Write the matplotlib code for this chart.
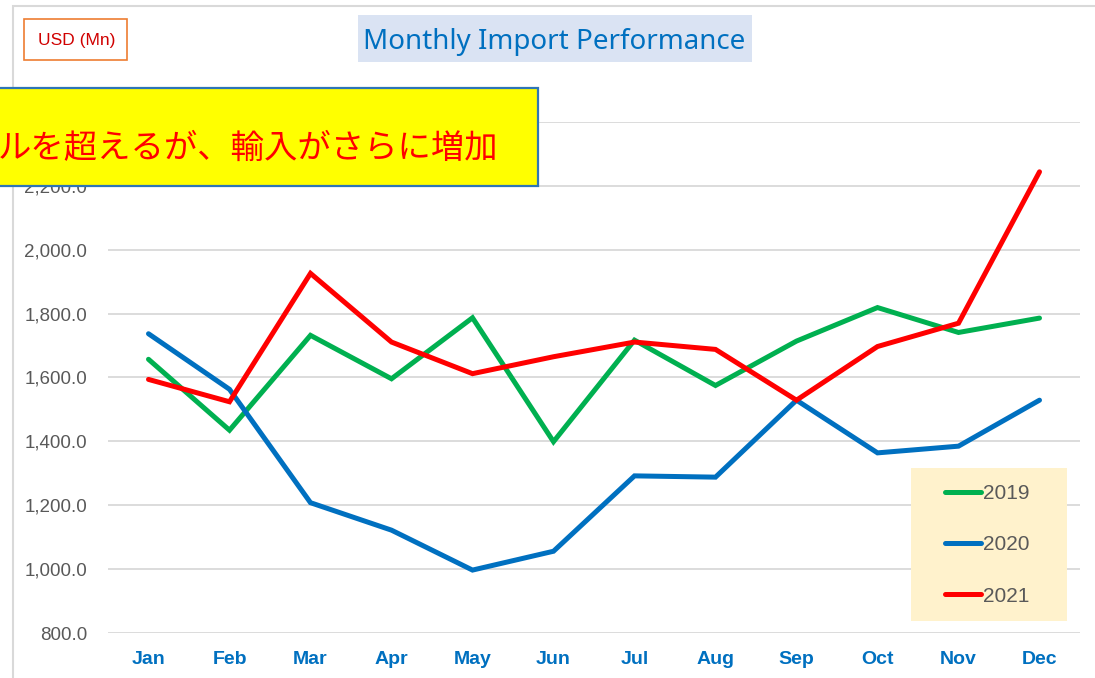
import matplotlib
matplotlib.use("Agg")
import matplotlib.pyplot as plt
from matplotlib.patches import Rectangle
from matplotlib.ticker import FuncFormatter

months = ["Jan", "Feb", "Mar", "Apr", "May", "Jun", "Jul", "Aug", "Sep", "Oct", "Nov", "Dec"]
y2019 = [1657, 1435, 1732, 1596, 1787, 1399, 1717, 1575, 1714, 1819, 1741, 1786]
y2020 = [1737, 1563, 1208, 1122, 997, 1056, 1292, 1288, 1529, 1364, 1385, 1529]
y2021 = [1594, 1524, 1926, 1711, 1612, 1665, 1711, 1688, 1529, 1697, 1770, 2244]
series_labels = ["2019", "2020", "2021"]
series_colors = ["#00B050", "#0070C0", "#FF0000"]
yticks = [800, 1000, 1200, 1400, 1600, 1800, 2000, 2200, 2400]

title_text = "Monthly Import Performance"
unit_text = "USD (Mn)"
note_text = "ルを超えるが、輸入がさらに増加"

W, H = 1095, 678
fig = plt.figure(figsize=(W / 100, H / 100), dpi=100)

def fx(px):
    return px / W

def fy(py):
    return 1 - py / H

# chart-area border (left and top visible)
fig.patches.append(Rectangle((fx(13), fy(H + 5)), fx(W + 10 - 13), fy(6) - fy(H + 5),
                             transform=fig.transFigure, fill=False,
                             edgecolor="#D9D9D9", linewidth=1.5, zorder=0))

ax = fig.add_axes([fx(108), fy(633), fx(1080 - 108), fy(122) - fy(633)])
x = list(range(len(months)))
for vals, lab, col in zip([y2019, y2020, y2021], series_labels, series_colors):
    ax.plot(x, vals, color=col, linewidth=3.6, solid_capstyle="round",
            solid_joinstyle="miter", label=lab, zorder=3)

ax.set_xlim(-0.5, len(months) - 0.5)
ax.set_ylim(yticks[0], yticks[-1])
ax.set_yticks(yticks)
ax.yaxis.set_major_formatter(FuncFormatter(lambda v, p: f"{v:,.1f}"))
ax.set_xticks(x)
ax.set_xticklabels(months)
ax.grid(axis="y", color="#D9D9D9", linewidth=1.3, zorder=0)
ax.set_axisbelow(True)
for s in ax.spines.values():
    s.set_visible(False)
ax.tick_params(axis="both", length=0)
ax.tick_params(axis="y", pad=15, labelsize=13.5, labelcolor="#595959")
ax.tick_params(axis="x", pad=13, labelsize=14, labelcolor="#0070C0")
for t in ax.get_yticklabels():
    t.set_fontfamily(["Liberation Sans", "DejaVu Sans"])
for t in ax.get_xticklabels():
    t.set_fontfamily(["Liberation Sans", "DejaVu Sans"])
    t.set_fontweight("bold")

# Legend background box (inside axes drawing so legend sits above it)
ax.add_patch(Rectangle((fx(911), fy(621)), fx(1067 - 911), fy(468) - fy(621),
                       transform=fig.transFigure, facecolor="#FFF2CC",
                       edgecolor="none", zorder=4, clip_on=False))
leg = ax.legend(loc="upper left", bbox_to_anchor=(fx(945), fy(484)),
                bbox_transform=fig.transFigure, frameon=False,
                prop={"family": ["Liberation Sans", "DejaVu Sans"], "size": 15},
                handlelength=1.75, handletextpad=0.05, labelspacing=1.55,
                borderpad=0, borderaxespad=0)
for t in leg.get_texts():
    t.set_color("#595959")
leg.set_zorder(5)

# Title
fig.patches.append(Rectangle((fx(358), fy(62)), fx(752 - 358), fy(15) - fy(62),
                             transform=fig.transFigure, facecolor="#DAE3F3",
                             edgecolor="none", zorder=1))
fig.text(fx(554), fy(42), title_text, ha="center", va="center", fontsize=20,
         color="#0070C0", family=["Noto Sans", "DejaVu Sans"], zorder=2)

# Unit box
fig.patches.append(Rectangle((fx(24), fy(60)), fx(127 - 24), fy(19) - fy(60),
                             transform=fig.transFigure, facecolor="white",
                             edgecolor="#ED7D31", linewidth=1.2, zorder=1))
fig.text(fx(77), fy(40), unit_text, ha="center", va="center", fontsize=12.5,
         color="#D00000", family=["Liberation Sans", "DejaVu Sans"], zorder=2)

# Yellow annotation box
fig.patches.append(Rectangle((fx(-5), fy(186)), fx(538 + 5), fy(88) - fy(186),
                             transform=fig.transFigure, facecolor="#FFFF00",
                             edgecolor="#2E75B6", linewidth=1.6, zorder=10))
fig.text(fx(-2), fy(148), note_text, ha="left", va="center", fontsize=24,
         color="#FF0000", family=["Noto Sans CJK JP", "DejaVu Sans"], zorder=11)

fig.savefig("out.png", dpi=100)
